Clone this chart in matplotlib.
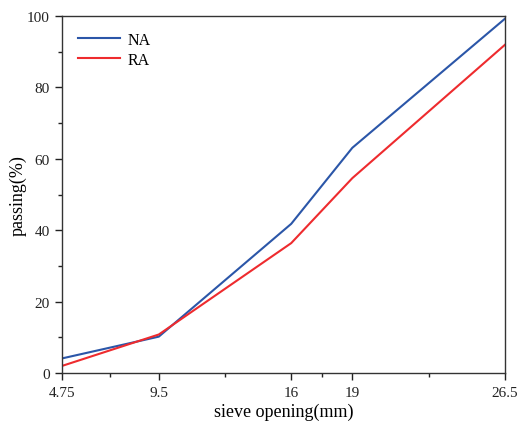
import matplotlib
matplotlib.use("Agg")
import matplotlib.pyplot as plt
from matplotlib.ticker import FixedLocator

# Sieve sizes (mm) and cumulative passing (%) for the two aggregates
sieve_sizes = [4.75, 9.5, 16, 19, 26.5]
tick_labels = ["4.75", "9.5", "16", "19", "26.5"]
na_passing = [4.1, 10.2, 41.8, 63.1, 99.3]
ra_passing = [2.0, 10.8, 36.4, 54.6, 92.0]

plt.rcParams["font.family"] = ["Liberation Serif", "DejaVu Serif"]

fig = plt.figure(figsize=(5.17, 4.27), dpi=100)
ax = fig.add_axes([0.12, 0.124, 0.857, 0.836])

ax.plot(sieve_sizes, na_passing, color="#2b56a8", lw=1.5, label="NA")
ax.plot(sieve_sizes, ra_passing, color="#ee2b2e", lw=1.5, label="RA")

ax.set_xlim(sieve_sizes[0], sieve_sizes[-1])
ax.set_ylim(0, 100)
ax.set_xticks(sieve_sizes)
ax.set_xticklabels(tick_labels)
minor_x = [(a + b) / 2 for a, b in zip(sieve_sizes[:-1], sieve_sizes[1:])]
ax.xaxis.set_minor_locator(FixedLocator(minor_x))
ax.set_yticks(range(0, 101, 20))
ax.yaxis.set_minor_locator(FixedLocator(range(10, 100, 20)))

ax.tick_params(which="both", direction="out", top=False, right=False,
               labelsize=11, colors="#222222", width=1.0)
ax.tick_params(which="major", length=5, pad=4)
ax.tick_params(which="minor", length=3)
for sp in ax.spines.values():
    sp.set_color("#333333")
    sp.set_linewidth(1.0)

ax.set_xlabel("sieve opening(mm)", fontsize=13, labelpad=3)
ax.set_ylabel("passing(%)", fontsize=13)
ax.yaxis.set_label_coords(-0.08, 0.5)

ax.legend(loc="upper left", frameon=False, fontsize=11.5, handlelength=2.6,
          handletextpad=0.5, borderaxespad=0.6, labelspacing=0.22)

fig.savefig("out.png", dpi=100)
